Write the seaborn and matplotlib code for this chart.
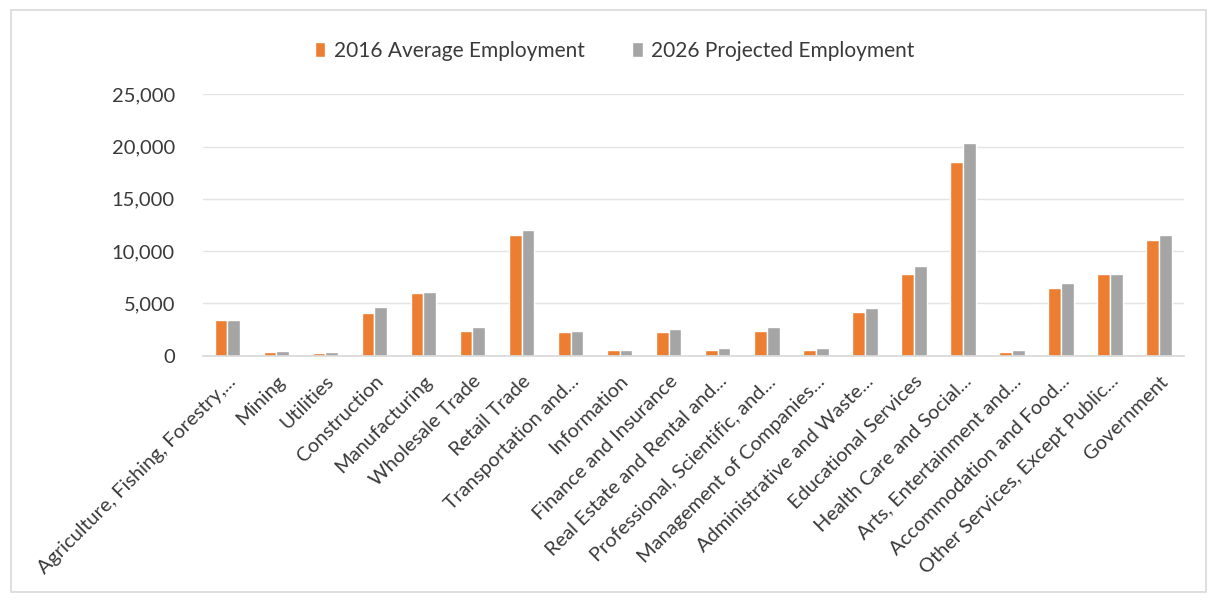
import matplotlib
matplotlib.use("Agg")
import matplotlib.pyplot as plt
import seaborn as sns
import pandas as pd
from matplotlib.patches import Rectangle
from matplotlib.ticker import FuncFormatter

industries = [
    "Agriculture, Fishing, Forestry,...",
    "Mining",
    "Utilities",
    "Construction",
    "Manufacturing",
    "Wholesale Trade",
    "Retail Trade",
    "Transportation and...",
    "Information",
    "Finance and Insurance",
    "Real Estate and Rental and...",
    "Professional, Scientific, and...",
    "Management of Companies...",
    "Administrative and Waste...",
    "Educational Services",
    "Health Care and Social...",
    "Arts, Entertainment and...",
    "Accommodation and Food...",
    "Other Services, Except Public...",
    "Government",
]
employment_2016 = [3430, 400, 300, 4130, 5980, 2410, 11550, 2320, 600, 2230,
                   510, 2410, 510, 4230, 7790, 18540, 330, 6460, 7820, 11070]
employment_2026 = [3380, 500, 360, 4640, 6080, 2740, 12050, 2330, 560, 2550,
                   730, 2740, 730, 4610, 8610, 20290, 560, 6940, 7820, 11510]
series_names = ["2016 Average Employment", "2026 Projected Employment"]

df = pd.DataFrame({
    "Industry": industries * 2,
    "Series": [series_names[0]] * len(industries) + [series_names[1]] * len(industries),
    "Employment": employment_2016 + employment_2026,
})

sns.set_theme(style="white")
plt.rcParams["font.family"] = ["Lato", "DejaVu Sans"]

fig = plt.figure(figsize=(12.14, 6.0), dpi=100)
fig.patch.set_facecolor("white")
# outer chart frame
fig.patches.append(Rectangle((0.009, 0.013), 0.984, 0.97, transform=fig.transFigure,
                             fill=False, edgecolor="#d9d9d9", linewidth=1.2))

ax = fig.add_axes([0.167, 0.407, 0.808, 0.436])
sns.barplot(data=df, x="Industry", y="Employment", hue="Series",
            palette=["#ED7D31", "#A5A5A5"], width=0.52, gap=0,
            saturation=1, ax=ax, legend=True)

ax.set_ylim(0, 25000)
ax.set_yticks(range(0, 25001, 5000))
ax.yaxis.set_major_formatter(FuncFormatter(lambda v, p: f"{int(v):,}"))
ax.set_xlim(-0.5, len(industries) - 0.5)
ax.grid(axis="y", color="#e4e4e4", linewidth=1)
ax.set_axisbelow(True)
for side in ["top", "right", "left"]:
    ax.spines[side].set_visible(False)
ax.spines["bottom"].set_color("#d9d9d9")
ax.set_xlabel("")
ax.set_ylabel("")
ax.tick_params(axis="both", length=0, colors="#3a3a3a")
ax.tick_params(axis="y", labelsize=14.5, pad=20)
ax.tick_params(axis="x", labelsize=14.4, pad=12)
plt.setp(ax.get_xticklabels(), rotation=45, ha="right", va="top",
         rotation_mode="anchor")

handles, labels = ax.get_legend_handles_labels()
ax.legend(handles, labels, loc="center", bbox_to_anchor=(0.42, 1.165),
          ncol=2, frameon=False, fontsize=15, handlelength=0.5, handleheight=0.7,
          handletextpad=0.4, columnspacing=2.3, labelcolor="#3a3a3a")

fig.savefig("out.png", dpi=100, facecolor="white")
